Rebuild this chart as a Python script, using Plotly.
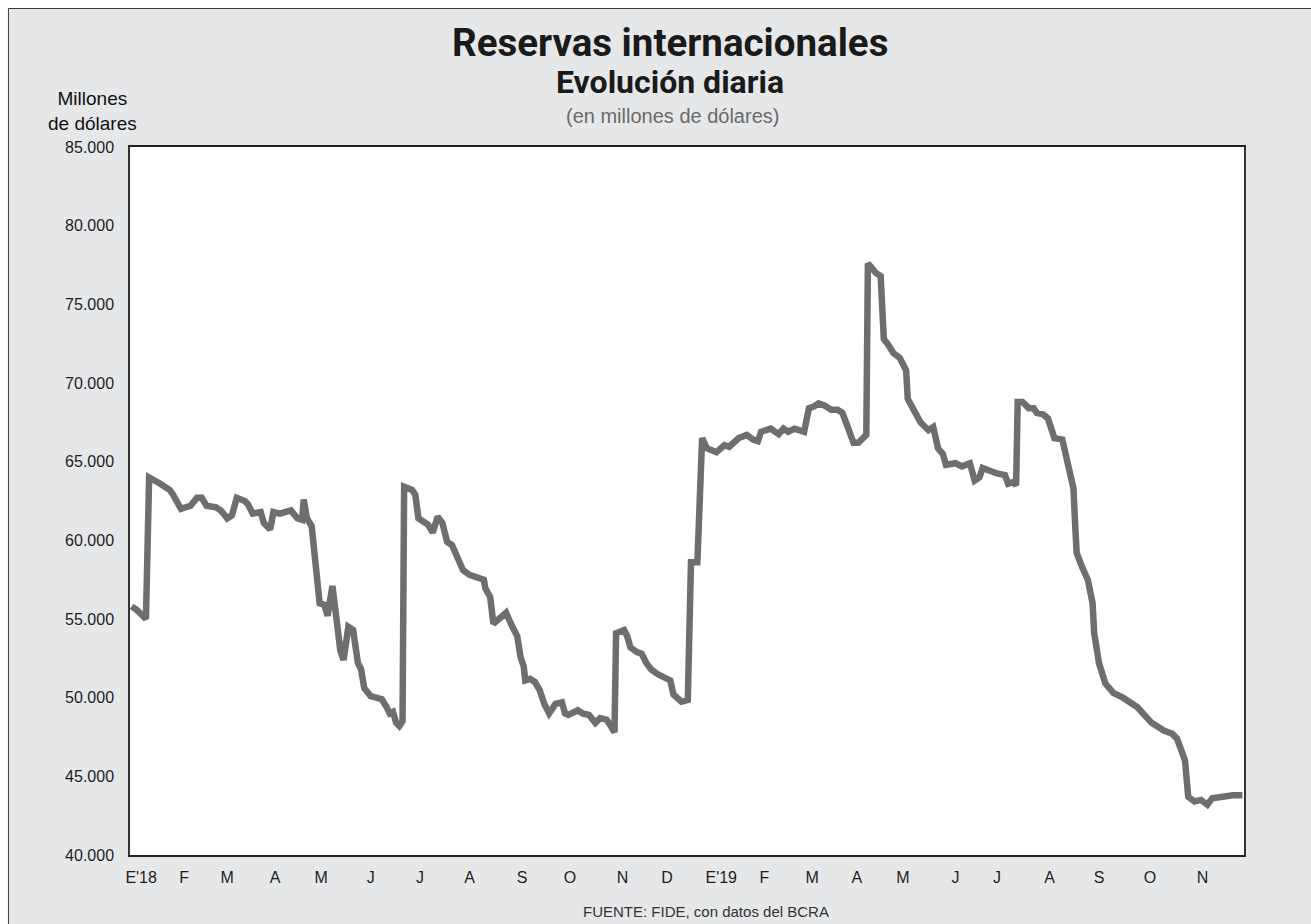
import plotly.graph_objects as go

# Reservas internacionales del BCRA, millones de dólares (serie diaria)
fechas = [
    "2018-01-02", "2018-01-05", "2018-01-11", "2018-01-13", "2018-01-20", "2018-01-26", "2018-01-28",
    "2018-02-02", "2018-02-08", "2018-02-12", "2018-02-15", "2018-02-18", "2018-02-24", "2018-02-27",
    "2018-03-03", "2018-03-06", "2018-03-09", "2018-03-14", "2018-03-16", "2018-03-19", "2018-03-24",
    "2018-03-26", "2018-03-30", "2018-04-01", "2018-04-05", "2018-04-09", "2018-04-12", "2018-04-16",
    "2018-04-19", "2018-04-20", "2018-04-22", "2018-04-25", "2018-04-28", "2018-04-30", "2018-05-03",
    "2018-05-05", "2018-05-08", "2018-05-11", "2018-05-13", "2018-05-15", "2018-05-18", "2018-05-21",
    "2018-05-24", "2018-05-26", "2018-05-28", "2018-06-01", "2018-06-05", "2018-06-08", "2018-06-11",
    "2018-06-13", "2018-06-15", "2018-06-17", "2018-06-19", "2018-06-21", "2018-06-22", "2018-06-27",
    "2018-06-29", "2018-07-01", "2018-07-04", "2018-07-07", "2018-07-10", "2018-07-13", "2018-07-16",
    "2018-07-19", "2018-07-22", "2018-07-26", "2018-07-29", "2018-08-02", "2018-08-06", "2018-08-11",
    "2018-08-12", "2018-08-15", "2018-08-17", "2018-08-21", "2018-08-25", "2018-08-28", "2018-09-01",
    "2018-09-03", "2018-09-05", "2018-09-06", "2018-09-09", "2018-09-12", "2018-09-15", "2018-09-18",
    "2018-09-21", "2018-09-25", "2018-09-29", "2018-10-01", "2018-10-03", "2018-10-09", "2018-10-12",
    "2018-10-16", "2018-10-20", "2018-10-23", "2018-10-27", "2018-10-30", "2018-11-01", "2018-11-02",
    "2018-11-07", "2018-11-09", "2018-11-11", "2018-11-15", "2018-11-18", "2018-11-21", "2018-11-24",
    "2018-11-28", "2018-12-03", "2018-12-06", "2018-12-08", "2018-12-13", "2018-12-17", "2018-12-19",
    "2018-12-23", "2018-12-26", "2018-12-29", "2019-01-04", "2019-01-09", "2019-01-12", "2019-01-18",
    "2019-01-23", "2019-01-27", "2019-01-30", "2019-02-01", "2019-02-07", "2019-02-12", "2019-02-15",
    "2019-02-18", "2019-02-22", "2019-02-28", "2019-03-03", "2019-03-06", "2019-03-09", "2019-03-13",
    "2019-03-17", "2019-03-21", "2019-03-24", "2019-03-27", "2019-03-29", "2019-03-31", "2019-04-03",
    "2019-04-05", "2019-04-08", "2019-04-09", "2019-04-11", "2019-04-14", "2019-04-17", "2019-04-19",
    "2019-04-22", "2019-04-25", "2019-04-29", "2019-05-02", "2019-05-03", "2019-05-04", "2019-05-07",
    "2019-05-12", "2019-05-17", "2019-05-20", "2019-05-23", "2019-05-26", "2019-05-28", "2019-06-03",
    "2019-06-07", "2019-06-12", "2019-06-15", "2019-06-18", "2019-06-20", "2019-06-25", "2019-06-29",
    "2019-07-04", "2019-07-06", "2019-07-09", "2019-07-11", "2019-07-12", "2019-07-15", "2019-07-19",
    "2019-07-22", "2019-07-24", "2019-07-28", "2019-07-31", "2019-08-02", "2019-08-04", "2019-08-09",
    "2019-08-11", "2019-08-14", "2019-08-16", "2019-08-17", "2019-08-18", "2019-08-21", "2019-08-25",
    "2019-08-28", "2019-08-29", "2019-09-01", "2019-09-05", "2019-09-10", "2019-09-16", "2019-09-25",
    "2019-09-29", "2019-10-04", "2019-10-12", "2019-10-17", "2019-10-20", "2019-10-23", "2019-10-25",
    "2019-10-27", "2019-10-31", "2019-11-04", "2019-11-08", "2019-11-11", "2019-11-16", "2019-11-20",
    "2019-11-24", "2019-11-30",
]

reservas = [
    55800, 55600, 55000, 64000, 63600, 63200, 62900,
    62000, 62200, 62700, 62700, 62200, 62100, 61900,
    61400, 61600, 62700, 62500, 62300, 61700, 61800,
    61100, 60700, 61800, 61700, 61800, 61900, 61400,
    61300, 62600, 61400, 60900, 58300, 56000, 55900,
    55200, 57100, 54900, 53000, 52400, 54500, 54300,
    52200, 51800, 50600, 50100, 50000, 49900, 49400,
    49000, 49100, 48400, 48200, 48500, 63400, 63200,
    62900, 61400, 61200, 61000, 60500, 61500, 61100,
    59900, 59700, 58750, 58100, 57800, 57700, 57500,
    56950, 56400, 54700, 55000, 55400, 54700, 53900,
    52600, 52000, 51100, 51200, 51000, 50500, 49600,
    49000, 49600, 49700, 49000, 48900, 49200, 49000,
    48900, 48400, 48700, 48600, 48150, 47800, 54100,
    54300, 53900, 53200, 52900, 52800, 52200, 51800,
    51500, 51200, 51100, 50200, 49750, 49850, 58600,
    58600, 66500, 65850, 65600, 66050, 65950, 66500,
    66700, 66400, 66300, 66900, 67100, 66750, 67100,
    66900, 67100, 66900, 68400, 68500, 68700, 68550,
    68300, 68300, 68100, 67300, 66800, 66200, 66200,
    66400, 66700, 77600, 77300, 77000, 76800, 72800,
    72400, 71900, 71600, 71100, 70800, 69000, 68500,
    67500, 67000, 67200, 65850, 65500, 64800, 64900,
    64700, 64900, 63800, 64000, 64600, 64350, 64250,
    64150, 63600, 63700, 63500, 68800, 68800, 68400,
    68400, 68100, 68000, 67750, 67200, 66500, 66400,
    65500, 64100, 63300, 61100, 59200, 58400, 57500,
    56000, 54100, 52200, 50900, 50300, 50000, 49400,
    48900, 48400, 47900, 47700, 47400, 46700, 46000,
    43700, 43400, 43500, 43200, 43600, 43700, 43700,
    43800, 43800,
]

# Etiquetas de meses del eje horizontal
tick_fechas = [
    "2018-01-08", "2018-02-04", "2018-03-03", "2018-04-02", "2018-05-01", "2018-06-01",
    "2018-07-02", "2018-08-02", "2018-09-04", "2018-10-04", "2018-11-06", "2018-12-04",
    "2019-01-07", "2019-02-03", "2019-03-05", "2019-04-02", "2019-05-01", "2019-06-03",
    "2019-06-29", "2019-08-01", "2019-09-01", "2019-10-03", "2019-11-05",
]
tick_textos = ["E'18", "F", "M", "A", "M", "J", "J", "A", "S", "O", "N", "D",
               "E'19", "F", "M", "A", "M", "J", "J", "A", "S", "O", "N"]

y_ticks = [40000, 45000, 50000, 55000, 60000, 65000, 70000, 75000, 80000, 85000]

SANS = "Liberation Sans, Arial, sans-serif"
TITLE = "Roboto, Liberation Sans, Arial, sans-serif"

fig = go.Figure()
fig.add_trace(go.Scatter(
    x=fechas, y=reservas, mode="lines",
    line=dict(color="#6e6e6e", width=6.5),
    hoverinfo="x+y", showlegend=False,
))

fig.update_layout(
    width=1311, height=924,
    margin=dict(l=130, r=67, t=147, b=69),
    paper_bgcolor="white",
    plot_bgcolor="white",
    separators=",.",
    showlegend=False,
    xaxis=dict(
        type="date",
        range=["2018-01-01", "2019-12-01"],
        tickvals=tick_fechas, ticktext=tick_textos,
        tickfont=dict(family=SANS, size=16, color="#1e1e1e"),
        ticks="", showgrid=False, zeroline=False,
        showline=True, mirror=True, linecolor="#222222", linewidth=1.5,
        ticklabelstandoff=7,
    ),
    yaxis=dict(
        range=[40000, 85000],
        tickvals=y_ticks, tickformat=",.0f",
        tickfont=dict(family=SANS, size=16, color="#1e1e1e"),
        ticks="", showgrid=False, zeroline=False,
        showline=True, mirror=True, linecolor="#333333", linewidth=1.5,
        ticklabelstandoff=11,
    ),
    shapes=[
        # marco gris exterior
        dict(type="rect", xref="paper", yref="paper",
             x0=-0.1091, x1=1.2, y0=-0.2, y1=1.1956,
             fillcolor="#e6e7e9", line=dict(color="#3a3a3a", width=1), layer="below"),
        # área de trazado blanca
        dict(type="rect", xref="paper", yref="paper",
             x0=0, x1=1, y0=0, y1=1,
             fillcolor="white", line=dict(width=0), layer="below"),
    ],
    annotations=[
        dict(text="<b>Reservas internacionales</b>", xref="paper", yref="paper",
             x=0.485, y=1.148, xanchor="center", yanchor="middle", showarrow=False,
             font=dict(family=TITLE, size=38.5, color="#1a1a1a")),
        dict(text="<b>Evolución diaria</b>", xref="paper", yref="paper",
             x=0.485, y=1.092, xanchor="center", yanchor="middle", showarrow=False,
             font=dict(family=TITLE, size=32, color="#1a1a1a")),
        dict(text="(en millones de dólares)", xref="paper", yref="paper",
             x=0.487, y=1.044, xanchor="center", yanchor="middle", showarrow=False,
             font=dict(family=SANS, size=20, color="#6a6a6a")),
        dict(text="Millones<br>de dólares", xref="paper", yref="paper",
             x=-0.0335, y=1.0508, xanchor="center", yanchor="middle", showarrow=False,
             align="center",
             font=dict(family=SANS, size=19, color="#111111")),
        dict(text="FUENTE: FIDE, con datos del BCRA", xref="paper", yref="paper",
             x=0.517, y=-0.0805, xanchor="center", yanchor="middle", showarrow=False,
             font=dict(family=SANS, size=15, color="#333333")),
    ],
)

fig.write_html("out.html")
